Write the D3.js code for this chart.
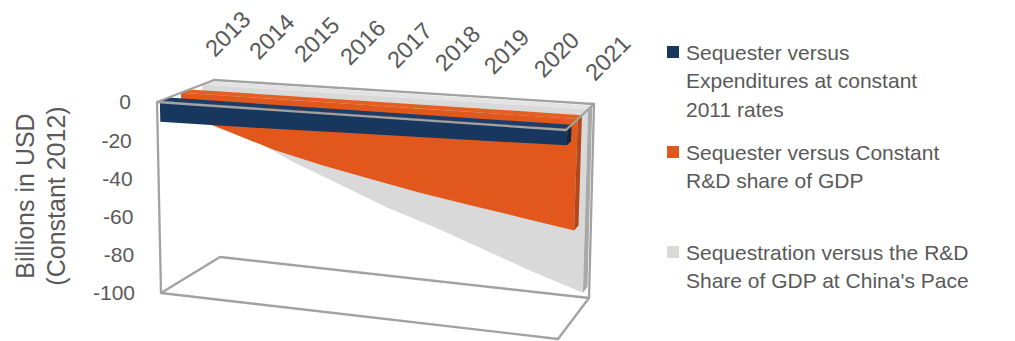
<!DOCTYPE html>
<html>
<head>
<meta charset="utf-8">
<script src="https://cdn.jsdelivr.net/npm/d3@7"></script>
<style>
  html, body { margin: 0; padding: 0; background: #fff; }
  svg { display: block; font-family: "Liberation Sans", Arial, sans-serif; }
</style>
</head>
<body>
<svg id="chart" width="1015" height="341"></svg>
<script>
// Years on the category axis
const years = ["2013", "2014", "2015", "2016", "2017", "2018", "2019", "2020", "2021"];

// Gap versus the sequester path, billions of constant 2012 USD
const constant2011Rates = [-11, -10.7, -10.4, -10, -9.6, -9.2, -8.8, -8.4, -8];
const constantRdShare   = [-11, -19, -27, -33, -38, -43, -47, -51, -55];
const chinasPace        = [-12, -27, -39, -49, -59, -67, -76, -85, -93];

const valueTicks = [0, -20, -40, -60, -80, -100];

// Legend wording, one entry per line
const legendLines = [
  ["Sequester versus", "Expenditures at constant", "2011 rates"],
  ["Sequester versus Constant", "R&D share of GDP"],
  ["Sequestration versus the R&D", "Share of GDP at China's Pace"]
];

const series = [
  { key: "c2011", values: constant2011Rates, front: "#17375E", top: "#1B3E68", side: "#0E2745" },
  { key: "share", values: constantRdShare,   front: "#E2581C", top: "#E45F20", side: "#B3461A" },
  { key: "china", values: chinasPace,        front: "#D9D9D9", top: "#E3E3E3", side: "#A9A9A9" }
];

const svg = d3.select("#chart");

// Corners of the 3-D plot box on screen: p[u][v][w]
// u: along the years (0 left, 1 right), v: value (0 top = 0, 1 bottom = -100), w: depth (0 front, 1 back)
const box = {
  p000: [157, 102], p100: [566, 130], p010: [161, 293], p110: [558, 339],
  p001: [214, 80],  p101: [594, 104], p011: [220, 257], p111: [589, 298]
};
const lerp = (a, b, t) => [a[0] + (b[0] - a[0]) * t, a[1] + (b[1] - a[1]) * t];
function project(u, v, w) {
  const front = lerp(lerp(box.p000, box.p100, u), lerp(box.p010, box.p110, u), v);
  const back  = lerp(lerp(box.p001, box.p101, u), lerp(box.p011, box.p111, u), v);
  return lerp(front, back, w);
}

// Scales
const xPoint = d3.scalePoint().domain(years).range([0, 1]);
const foreshorten = t => t * 0.918 / (1 - 0.082 * t);   // nearer (right) end is drawn wider
const uOf = yr => foreshorten(xPoint(yr));
const vScale = d3.scaleLinear().domain([0, -100]).range([0, 1]);
const depth = d3.scaleBand().domain(series.map(s => s.key)).range([0.05, 0.94]).paddingInner(0.595);

const line = d3.line().x(d => d[0]).y(d => d[1]);
const poly = pts => line(pts) + "Z";

const frameStyle = sel => sel.attr("fill", "none").attr("stroke", "#A2A2A2")
  .attr("stroke-width", 2.3).attr("stroke-linejoin", "round").attr("stroke-linecap", "round");

// Back edges and floor of the box
const back = svg.append("g");
frameStyle(back.append("path").attr("d", line([project(0, 0, 1), project(1, 0, 1), project(1, 1, 1)])));
frameStyle(back.append("path").attr("d", poly([project(0, 1, 0), project(0, 1, 1), project(1, 1, 1), project(1, 1, 0)])));

// Series ribbons, drawn from the back to the front
const marks = svg.append("g");
series.slice().reverse().forEach(s => {
  const wf = depth(s.key), wb = wf + depth.bandwidth();
  const g = marks.append("g");
  // top face at the zero level
  g.append("path").attr("fill", s.top)
    .attr("d", poly([project(0, 0, wf), project(1, 0, wf), project(1, 0, wb), project(0, 0, wb)]));
  // front face
  const lower = years.map((yr, i) => project(uOf(yr), vScale(s.values[i]), wf));
  const upper = years.map(yr => project(uOf(yr), 0, wf)).reverse();
  g.append("path").attr("fill", s.front).attr("d", poly(lower.concat(upper)));
  // right-hand end face
  const last = vScale(s.values[s.values.length - 1]);
  g.append("path").attr("fill", s.side)
    .attr("d", poly([project(1, 0, wf), project(1, last, wf), project(1, last, wb), project(1, 0, wb)]));
});

// Front edges of the box
const fr = svg.append("g");
frameStyle(fr.append("path").attr("d", line([project(0, 1, 0), project(0, 0, 0), project(0, 0, 1)])));
frameStyle(fr.append("path").attr("d", line([project(0, 0, 0), project(1, 0, 0), project(1, 0, 1)])));

const textColor = "#595959";

// Value axis labels
svg.append("g").selectAll("text").data(valueTicks).join("text")
  .attr("x", d => project(0, vScale(d), 0)[0] - 26)
  .attr("y", d => project(0, vScale(d), 0)[1])
  .attr("dy", "0.35em")
  .attr("text-anchor", "end")
  .attr("font-size", 21)
  .attr("fill", textColor)
  .text(d => d);

// Year labels along the back edge
svg.append("g").selectAll("text").data(years).join("text")
  .attr("transform", d => {
    const p = project(uOf(d), 0, 1);
    return `translate(${p[0] + 1},${p[1] - 22}) rotate(-45)`;
  })
  .attr("font-size", 23.5)
  .attr("fill", textColor)
  .text(d => d);

// Value axis title
const title = svg.append("text")
  .attr("transform", "translate(0,196) rotate(-90)")
  .attr("text-anchor", "middle")
  .attr("font-size", 25)
  .attr("fill", textColor);
title.append("tspan").attr("x", 0).attr("y", 34).text("Billions in USD");
title.append("tspan").attr("x", 0).attr("y", 65).text("(Constant 2012)");

// Legend
const legendTop = [52, 152, 252];
const legend = svg.append("g");
series.forEach((s, i) => {
  legend.append("rect").attr("x", 667).attr("y", legendTop[i] - 6)
    .attr("width", 12).attr("height", 12).attr("fill", s.front);
  const t = legend.append("text").attr("font-size", 21).attr("fill", textColor);
  legendLines[i].forEach((ln, j) => {
    t.append("tspan").attr("x", 686).attr("y", legendTop[i] + 7.5 + j * 28.5).text(ln);
  });
});
</script>
</body>
</html>
